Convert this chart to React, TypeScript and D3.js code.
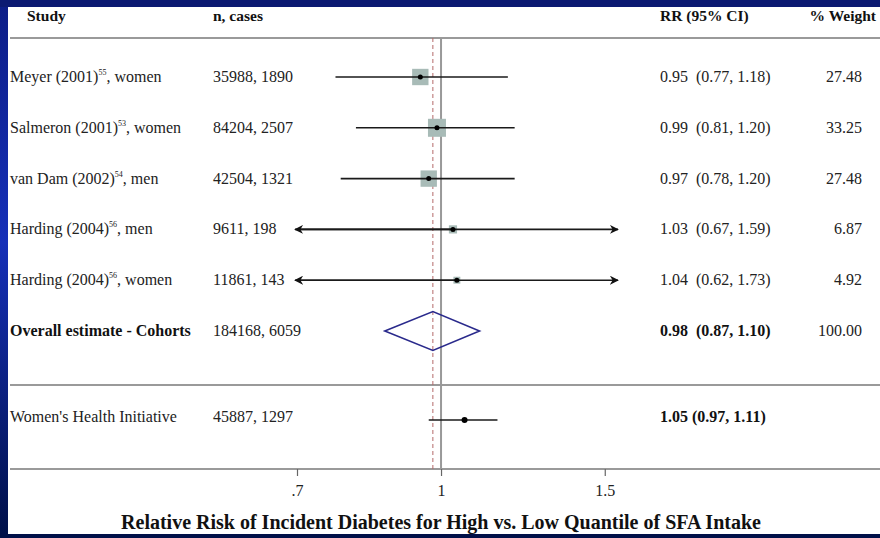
import React, { useRef, useEffect } from "react"
import * as d3 from "d3"

// study rows
const studies = ["Meyer (2001)", "Salmeron (2001)", "van Dam (2002)", "Harding (2004)", "Harding (2004)"]
const refs = ["55", "53", "54", "56", "56"]
const groups = ["women", "women", "men", "men", "women"]
const nCases = ["35988, 1890", "84204, 2507", "42504, 1321", "9611, 198", "11861, 143"]
const rr = [0.95, 0.99, 0.97, 1.03, 1.04]
const lo = [0.77, 0.81, 0.78, 0.67, 0.62]
const hi = [1.18, 1.20, 1.20, 1.59, 1.73]
const weights = [27.48, 33.25, 27.48, 6.87, 4.92]
const rrText = ["0.95  (0.77, 1.18)", "0.99  (0.81, 1.20)", "0.97  (0.78, 1.20)", "1.03  (0.67, 1.59)", "1.04  (0.62, 1.73)"]

// pooled
const overall = { label: "Overall estimate - Cohorts", n: "184168, 6059", rr: 0.98, lo: 0.87, hi: 1.10, text: "0.98  (0.87, 1.10)", weight: "100.00" }
// WHI row (mark)
const whi = { label: "Women's Health Initiative", n: "45887, 1297", rr: 1.06, lo: 0.97, hi: 1.15, text: "1.05 (0.97, 1.11)" }

const tickValues = [0.7, 1, 1.5]
const tickLabels = [".7", "1", "1.5"]
const xDomain = [0.7, 1.55]

export default function App() {
    const svgRef = useRef(null)

    useEffect(() => {
        const svg = d3.select(svgRef.current)
        svg.selectAll("*").remove()

        const W = 880, H = 538
        const font = "'Liberation Serif', 'Times New Roman', serif"

        // blue slide background
        const defs = svg.append("defs")
        const grad = defs.append("linearGradient").attr("id", "bg").attr("x1", 0).attr("y1", 0).attr("x2", 0).attr("y2", 1)
        grad.append("stop").attr("offset", "0%").attr("stop-color", "#0c1d86")
        grad.append("stop").attr("offset", "45%").attr("stop-color", "#1630b8")
        grad.append("stop").attr("offset", "100%").attr("stop-color", "#001048")
        svg.append("rect").attr("width", W).attr("height", H).attr("fill", "url(#bg)")
        svg.append("rect").attr("x", 0).attr("y", 0).attr("width", W).attr("height", 7).attr("fill", "#0b1a72")
        svg.append("rect").attr("x", 8).attr("y", 7).attr("width", W - 8).attr("height", 527).attr("fill", "#ffffff")

        const x = d3.scaleLog().domain(xDomain).range([297, 618])
        const rowY = d3.scaleLinear().domain([0, 5]).range([77, 331])
        const whiY = 420
        const topY = 38, sepY = 385, axisY = 469
        const size = d3.scaleSqrt().domain([0, d3.max(weights)]).range([0, 18])

        const colStudy = 10, colN = 213, colRR = 660, colW = 862
        const fs = "16px"

        // header
        const header = svg.append("g").attr("font-family", font).attr("font-size", "15.5px").attr("font-weight", "bold").attr("fill", "#111")
        header.append("text").attr("x", 27).attr("y", 21).text("Study")
        header.append("text").attr("x", colN).attr("y", 21).text("n, cases")
        header.append("text").attr("x", colRR).attr("y", 21).text("RR (95% CI)")
        header.append("text").attr("x", 876).attr("y", 21).attr("text-anchor", "end").text("% Weight")

        // horizontal rules
        ;[topY, sepY, axisY].forEach(yy => {
            svg.append("line").attr("x1", 10).attr("x2", W).attr("y1", yy).attr("y2", yy)
                .attr("stroke", "#9a9a9a").attr("stroke-width", 2)
        })

        // null line & overall line
        svg.append("line").attr("x1", x(1)).attr("x2", x(1)).attr("y1", topY).attr("y2", axisY)
            .attr("stroke", "#999").attr("stroke-width", 2)
        svg.append("line").attr("x1", x(overall.rr)).attr("x2", x(overall.rr)).attr("y1", topY).attr("y2", axisY)
            .attr("stroke", "#b46a6a").attr("stroke-width", 1).attr("stroke-dasharray", "4,3")

        defs.append("marker").attr("id", "arr").attr("viewBox", "0 0 10 10").attr("refX", 9).attr("refY", 5)
            .attr("markerWidth", 9).attr("markerHeight", 9).attr("markerUnits", "userSpaceOnUse").attr("orient", "auto")
            .append("path").attr("d", "M0,0 L10,5 L0,10 L3,5 Z").attr("fill", "#111")

        const [xmin, xmax] = xDomain
        const txt = svg.append("g").attr("font-family", font).attr("font-size", fs).attr("fill", "#222")

        studies.forEach((s, i) => {
            const yy = rowY(i)
            const l = txt.append("text").attr("x", colStudy).attr("y", yy + 5)
            l.append("tspan").text(s)
            l.append("tspan").attr("font-size", "8px").attr("dy", -7).text(refs[i])
            l.append("tspan").attr("dy", 7).text(", " + groups[i])
            txt.append("text").attr("x", colN).attr("y", yy + 5).text(nCases[i])
            txt.append("text").attr("x", colRR).attr("y", yy + 5).attr("xml:space", "preserve").text(rrText[i])
            txt.append("text").attr("x", colW).attr("y", yy + 5).attr("text-anchor", "end").text(weights[i].toFixed(2))

            const a = Math.max(lo[i], xmin), b = Math.min(hi[i], xmax)
            const sq = size(weights[i])
            svg.append("rect").attr("x", x(rr[i]) - sq / 2).attr("y", yy - sq / 2).attr("width", sq).attr("height", sq)
                .attr("fill", "#a8bbb7")
            const ln = svg.append("line").attr("x1", x(a)).attr("x2", x(b)).attr("y1", yy).attr("y2", yy)
                .attr("stroke", "#1a1a1a").attr("stroke-width", 1.6)
            if (hi[i] > xmax) ln.attr("marker-end", "url(#arr)")
            if (lo[i] < xmin) {
                svg.append("line").attr("x1", x(rr[i])).attr("x2", x(a) - 2).attr("y1", yy).attr("y2", yy)
                    .attr("stroke", "#1a1a1a").attr("stroke-width", 1.6).attr("marker-end", "url(#arr)")
            }
            svg.append("circle").attr("cx", x(rr[i])).attr("cy", yy).attr("r", 2.5).attr("fill", "#000")
        })

        // overall row
        const oy = rowY(5)
        txt.append("text").attr("x", colStudy).attr("y", oy + 5).attr("font-weight", "bold").attr("fill", "#111").text(overall.label)
        txt.append("text").attr("x", colN).attr("y", oy + 5).text(overall.n)
        txt.append("text").attr("x", colRR).attr("y", oy + 5).attr("font-weight", "bold").attr("fill", "#111").attr("xml:space", "preserve").text(overall.text)
        txt.append("text").attr("x", colW).attr("y", oy + 5).attr("text-anchor", "end").text(overall.weight)
        const dh = 19.5
        svg.append("path")
            .attr("d", `M${x(overall.lo)},${oy} L${x(overall.rr)},${oy - dh} L${x(overall.hi)},${oy} L${x(overall.rr)},${oy + dh} Z`)
            .attr("fill", "none").attr("stroke", "#2a2a8c").attr("stroke-width", 1.6)

        // WHI row
        txt.append("text").attr("x", colStudy).attr("y", whiY + 2).text(whi.label)
        txt.append("text").attr("x", colN).attr("y", whiY + 2).text(whi.n)
        txt.append("text").attr("x", colRR).attr("y", whiY + 2).attr("font-weight", "bold").attr("fill", "#111").text(whi.text)
        svg.append("line").attr("x1", x(whi.lo)).attr("x2", x(whi.hi)).attr("y1", whiY).attr("y2", whiY)
            .attr("stroke", "#1a1a1a").attr("stroke-width", 1.6)
        svg.append("circle").attr("cx", x(whi.rr)).attr("cy", whiY).attr("r", 3).attr("fill", "#000")

        // x axis
        const axis = svg.append("g").attr("transform", `translate(0,${axisY})`)
            .call(d3.axisBottom(x).tickValues(tickValues).tickFormat((d, i) => tickLabels[i]).tickSize(7).tickSizeOuter(0))
        axis.select(".domain").remove()
        axis.selectAll(".tick line").attr("stroke", "#666").attr("stroke-width", 1.2)
        axis.selectAll(".tick text").attr("font-family", font).attr("font-size", fs).attr("fill", "#222").attr("dy", "1.05em")

        svg.append("text").attr("x", 441).attr("y", 529).attr("text-anchor", "middle")
            .attr("font-family", font).attr("font-size", "20px").attr("font-weight", "bold").attr("fill", "#111")
            .text("Relative Risk of Incident Diabetes for High vs. Low Quantile of SFA Intake")

        svg.append("rect").attr("x", 0).attr("y", 534).attr("width", W).attr("height", 4).attr("fill", "#001048")
    }, [])

    return (
        <svg ref={svgRef} width={880} height={538} style={{ position: "absolute", left: 0, top: 0, display: "block" }}></svg>
    )
}
